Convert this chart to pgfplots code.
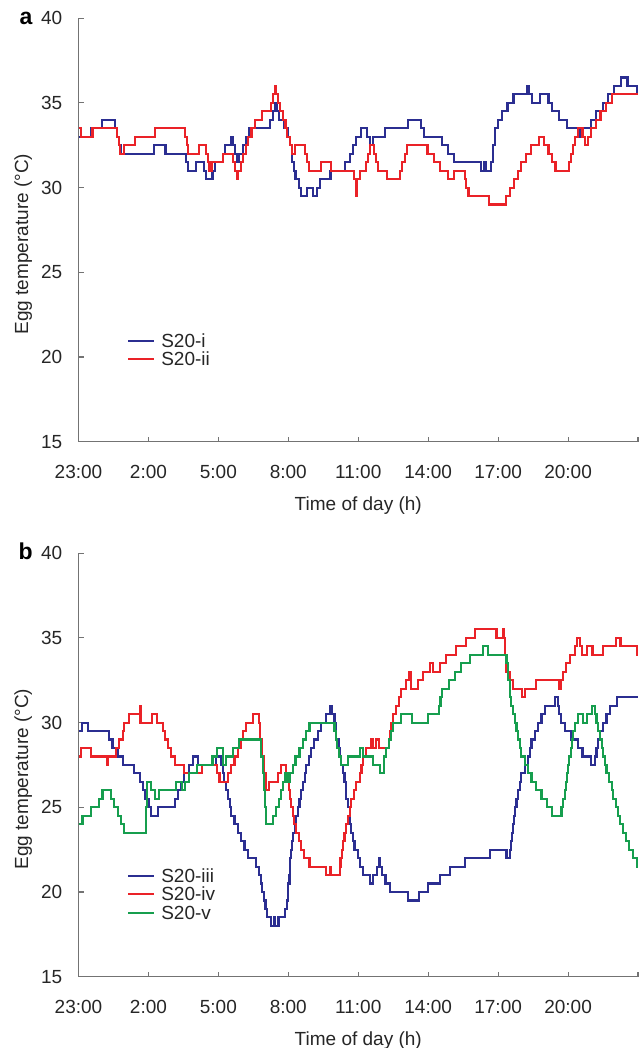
\documentclass[border=0pt]{standalone}
\usepackage{fontspec}
\setmainfont{Liberation Sans}
\usepackage{pgfplots}
\pgfplotsset{compat=1.18}

\definecolor{sblue}{RGB}{43,46,145}
\definecolor{sred}{RGB}{234,34,40}
\definecolor{sgreen}{RGB}{22,158,78}
\definecolor{axgray}{RGB}{115,115,115}
\newcommand\chartfont{\fontsize{19bp}{22bp}\selectfont}

\pgfplotsset{
  eggaxis/.style={
    scale only axis, width=559.5bp, height=423.5bp,
    xmin=0, xmax=24, ymin=15, ymax=40,
    axis lines=left, axis line style={-, draw=axgray, line width=1.1bp},
    xtick={0,3,...,24},
    xticklabels={23:00,2:00,5:00,8:00,11:00,14:00,17:00,20:00,{}},
    ytick={15,20,...,40},
    tick align=inside, major tick length=5bp,
    tick style={draw=axgray, line width=1.1bp},
    /pgf/number format/assume math mode=true,
    tick label style={font=\chartfont, text=black!85},
    yticklabel style={anchor=east, inner sep=0pt, xshift=-16bp},
    xticklabel style={anchor=north, inner sep=0pt, yshift=-23.3bp},
    xlabel={Time of day (h)},
    ylabel={Egg temperature (°C)},
    xlabel style={at={(axis description cs:0.5,0)}, anchor=north,
      inner sep=0pt, yshift=-55bp, font=\chartfont, text=black!85},
    ylabel style={at={(axis description cs:-0.0987,0.4665)}, anchor=center,
      inner sep=0pt, font=\chartfont, text=black!85},
    legend style={at={(axis description cs:0.0867,0.255)}, anchor=north west,
      draw=none, fill=none, font=\chartfont, inner sep=0pt,
      row sep=5bp, column sep=6bp,
      nodes={inner sep=0pt, text height=13.5bp, text depth=0pt, text=black!85}},
    legend cell align=left,
    legend image code/.code={\draw[#1, line width=2.1bp] (0bp,0bp) -- (26bp,0bp);},
    every axis plot/.append style={const plot, no marks, line width=2.1bp},
  }
}

\begin{document}
\begin{tikzpicture}
\path[use as bounding box] (0,0) rectangle (643bp,1048bp);

% panel a
\begin{axis}[eggaxis, at={(78.5bp,606.3bp)}, anchor=south west]
\addplot[sblue] coordinates {
(0,33.0) (0.53,33.5) (1.00,34.0) (1.58,33.5) (1.67,33.0) (1.74,32.5) (1.83,32.0)
(3.23,32.5) (3.73,32.0) (4.60,31.5) (4.69,31.0) (5.04,31.5) (5.40,31.0) (5.48,30.5)
(5.75,31.0) (5.87,31.5) (6.19,32.0) (6.27,32.5) (6.54,33.0) (6.63,32.5) (6.71,32.0)
(6.80,31.5) (6.89,32.0) (7.07,32.5) (7.19,33.0) (7.33,33.5) (8.21,34.0) (8.35,34.5)
(8.44,35.0) (8.52,34.5) (8.61,34.0) (8.82,33.5) (9.00,33.0) (9.09,32.5) (9.17,31.5)
(9.23,31.0) (9.31,30.5) (9.44,30.0) (9.53,29.5) (9.79,30.0) (10.05,29.5) (10.23,30.0)
(10.37,30.5) (10.81,31.0) (11.42,31.5) (11.63,32.0) (11.76,32.5) (11.90,33.0)
(12.13,33.5) (12.39,33.0) (12.51,32.5) (12.65,33.0) (13.13,33.5) (14.13,34.0)
(14.71,33.5) (14.83,33.0) (15.59,32.5) (15.85,32.0) (16.12,31.5) (17.26,31.0)
(17.40,31.5) (17.47,31.0) (17.70,31.5) (17.79,32.5) (17.87,33.5) (18.00,34.0)
(18.17,34.5) (18.40,35.0) (18.66,35.5) (19.23,36.0) (19.31,35.5) (19.46,35.0)
(19.81,35.5) (20.16,35.0) (20.33,34.5) (20.63,34.0) (20.95,33.5) (21.51,33.0)
(21.65,33.5) (22.00,34.0) (22.18,34.5) (22.50,35.0) (22.71,35.5) (22.97,36.0)
(23.27,36.5) (23.55,36.0) (23.94,35.5) (24,35.5)};
\addlegendentry{S20-i}
\addplot[sred] coordinates {
(0,33.5) (0.09,33.0) (0.60,33.5) (1.65,33.0) (1.74,32.5) (1.79,32.0) (1.97,32.5)
(2.41,33.0) (3.29,33.5) (4.57,33.0) (4.64,32.5) (4.71,32.0) (5.18,32.5) (5.48,32.0)
(5.57,31.5) (5.62,31.0) (5.71,31.5) (6.19,32.0) (6.63,31.5) (6.71,31.0) (6.78,30.5)
(6.85,31.0) (6.98,31.5) (7.07,32.0) (7.19,32.5) (7.28,33.0) (7.42,33.5) (7.59,34.0)
(7.89,34.5) (8.26,35.0) (8.35,35.5) (8.42,36.0) (8.47,35.5) (8.54,35.0) (8.65,34.5)
(8.79,34.0) (8.88,33.5) (8.96,33.0) (9.09,32.5) (9.17,32.0) (9.30,32.5) (9.70,32.0)
(9.79,31.5) (9.88,31.0) (10.40,31.5) (10.84,31.0) (11.81,30.5) (11.90,29.5)
(11.95,30.5) (12.09,31.0) (12.34,31.5) (12.43,32.0) (12.51,32.5) (12.69,32.0)
(12.78,31.5) (12.86,31.0) (13.22,30.5) (13.78,31.0) (13.88,31.5) (14.01,32.0)
(14.09,32.5) (14.97,32.0) (15.24,31.5) (15.50,31.0) (15.85,30.5) (16.12,31.0)
(16.56,30.5) (16.64,30.0) (16.73,29.5) (17.61,29.0) (18.35,29.5) (18.52,30.0)
(18.70,30.5) (18.84,31.0) (18.98,31.5) (19.19,32.0) (19.40,32.5) (19.75,33.0)
(19.98,32.5) (20.16,32.0) (20.33,31.5) (20.46,31.0) (21.04,31.5) (21.13,32.0)
(21.21,32.5) (21.30,33.0) (21.44,33.5) (21.62,33.0) (21.74,32.5) (21.86,33.0)
(22.00,33.5) (22.18,34.0) (22.39,34.5) (22.62,35.0) (22.88,35.5) (24,35.5)};
\addlegendentry{S20-ii}
\end{axis}

% panel b
\begin{axis}[eggaxis, at={(78.5bp,71.3bp)}, anchor=south west]
\addplot[sblue] coordinates {
(0.00,29.5) (0.14,30.0) (0.39,29.5) (1.29,29.0) (1.46,28.5) (1.68,28.0) (1.89,27.5)
(2.39,27.0) (2.64,26.5) (2.75,26.0) (2.87,25.5) (3.01,25.0) (3.11,24.5) (3.40,25.0)
(4.15,25.5) (4.25,26.0) (4.40,26.5) (4.54,27.0) (4.73,27.5) (4.93,28.0) (5.11,27.5)
(5.90,28.0) (6.10,27.5) (6.18,27.0) (6.26,26.5) (6.33,26.0) (6.40,25.5) (6.48,25.0)
(6.55,24.5) (6.69,24.0) (6.83,23.5) (6.97,23.0) (7.12,22.5) (7.26,22.0) (7.62,21.5)
(7.76,21.0) (7.82,20.5) (7.88,20.0) (7.95,19.5) (8.02,19.0) (8.10,18.5) (8.25,18.0)
(8.38,18.5) (8.43,18.0) (8.58,18.5) (8.85,19.0) (8.95,19.5) (9.00,20.5) (9.05,21.0)
(9.08,22.0) (9.12,22.5) (9.17,23.0) (9.22,23.5) (9.27,24.0) (9.31,24.5) (9.40,25.0)
(9.48,25.5) (9.55,26.0) (9.62,26.5) (9.70,27.0) (9.77,27.5) (9.90,28.0) (9.98,28.5)
(10.12,29.0) (10.27,29.5) (10.41,30.0) (10.63,30.5) (10.80,31.0) (10.88,30.5)
(10.98,30.0) (11.05,29.0) (11.17,28.5) (11.22,28.0) (11.27,27.5) (11.34,27.0)
(11.41,26.5) (11.48,25.5) (11.56,25.0) (11.63,24.0) (11.70,23.5) (11.77,23.0)
(11.84,22.5) (11.99,22.0) (12.06,21.5) (12.20,21.0) (12.50,20.5) (12.62,21.0)
(12.80,21.5) (12.88,22.0) (12.95,21.5) (13.02,21.0) (13.17,20.5) (13.38,20.0)
(14.13,19.5) (14.61,20.0) (14.99,20.5) (15.49,21.0) (15.93,21.5) (16.57,22.0)
(17.64,22.5) (18.36,22.0) (18.50,22.5) (18.57,23.0) (18.60,23.5) (18.64,24.0)
(18.68,24.5) (18.72,25.0) (18.79,25.5) (18.86,26.0) (18.93,26.5) (19.00,27.0)
(19.14,27.5) (19.29,28.0) (19.36,28.5) (19.43,29.0) (19.57,29.5) (19.72,30.0)
(19.86,30.5) (20.00,31.0) (20.43,31.5) (20.55,31.0) (20.62,30.5) (20.71,30.0)
(20.85,29.5) (21.11,29.0) (21.44,28.5) (21.62,28.0) (22.00,27.5) (22.15,28.0)
(22.22,28.5) (22.30,29.0) (22.37,29.5) (22.51,30.0) (22.65,30.5) (22.79,31.0)
(23.08,31.5) (24,31.5)};
\addlegendentry{S20-iii}
\addplot[sred] coordinates {
(0,28.0) (0.10,28.5) (0.53,28.0) (1.22,27.5) (1.28,28.0) (1.60,28.5) (1.75,29.0)
(1.89,29.5) (1.96,30.0) (2.18,30.5) (2.62,31.0) (2.66,30.0) (3.15,30.5) (3.35,30.0)
(3.61,29.5) (3.72,29.0) (3.83,28.5) (3.97,28.0) (4.15,27.5) (4.54,27.0) (5.30,27.5)
(5.95,27.0) (6.05,26.5) (6.40,27.0) (6.55,27.5) (6.69,28.0) (6.83,28.5) (6.97,29.0)
(7.07,29.5) (7.19,30.0) (7.48,30.5) (7.73,30.0) (7.80,29.0) (7.88,28.0) (7.95,27.0)
(8.05,26.0) (8.19,26.5) (8.55,27.0) (8.69,27.5) (8.91,27.0) (8.98,26.5) (9.02,26.0)
(9.08,25.5) (9.12,25.0) (9.19,24.5) (9.26,24.0) (9.34,23.5) (9.45,23.0) (9.55,22.5)
(9.69,22.0) (9.91,21.5) (10.63,21.0) (10.77,21.5) (10.85,21.0) (11.20,21.5)
(11.24,22.0) (11.30,22.5) (11.34,23.0) (11.41,23.5) (11.49,24.0) (11.56,24.5)
(11.63,25.0) (11.70,25.5) (11.80,26.0) (11.91,26.5) (12.06,27.0) (12.14,27.5)
(12.20,28.0) (12.34,28.5) (12.56,29.0) (12.62,28.5) (12.78,29.0) (12.88,28.5)
(13.32,29.0) (13.38,29.5) (13.42,30.0) (13.49,30.5) (13.63,31.0) (13.75,31.5)
(13.85,32.0) (14.06,32.5) (14.20,33.0) (14.26,32.0) (14.56,32.5) (14.78,33.0)
(15.06,33.5) (15.20,33.0) (15.49,33.5) (15.78,34.0) (16.21,34.5) (16.64,35.0)
(17.00,35.5) (17.93,35.0) (18.19,35.5) (18.24,35.0) (18.29,34.0) (18.36,33.0)
(18.50,32.5) (18.62,32.0) (19.04,31.5) (19.14,32.0) (19.62,32.5) (20.62,32.0)
(20.69,32.5) (20.79,33.0) (20.93,33.5) (21.08,34.0) (21.29,34.5) (21.39,35.0)
(21.51,34.5) (21.58,34.0) (21.82,34.5) (22.05,34.0) (22.51,34.5) (23.05,35.0)
(23.25,34.5) (23.94,34.0) (24,34.0)};
\addlegendentry{S20-iv}
\addplot[sgreen] coordinates {
(0,24.0) (0.17,24.5) (0.53,25.0) (0.89,25.5) (1.03,26.0) (1.39,25.5) (1.53,25.0)
(1.68,24.5) (1.82,24.0) (1.96,23.5) (2.89,25.0) (2.95,26.5) (3.10,26.0) (3.30,25.5)
(3.45,26.0) (4.20,26.5) (4.45,26.0) (4.55,26.5) (4.75,27.0) (5.10,27.5) (5.75,28.0)
(5.95,28.5) (6.19,27.5) (6.33,28.0) (6.62,28.5) (6.87,29.0) (7.83,28.0) (7.91,27.0)
(7.96,26.0) (8.01,25.0) (8.05,24.0) (8.34,24.5) (8.48,25.0) (8.59,25.5) (8.69,26.0)
(8.79,26.5) (8.85,27.0) (8.95,26.5) (9.05,27.0) (9.19,27.5) (9.31,28.0) (9.48,28.5)
(9.62,29.0) (9.74,29.5) (9.91,30.0) (10.98,29.5) (11.03,29.0) (11.08,28.5)
(11.17,28.0) (11.27,27.5) (11.56,28.0) (12.09,28.5) (12.20,28.0) (12.63,27.5)
(12.92,27.0) (13.09,28.0) (13.20,28.5) (13.32,29.0) (13.42,29.5) (13.49,30.0)
(13.85,30.5) (14.32,30.0) (14.99,30.5) (15.46,31.0) (15.53,31.5) (15.61,32.0)
(15.89,32.5) (16.14,33.0) (16.42,33.5) (16.78,34.0) (17.36,34.5) (17.57,34.0)
(18.36,33.5) (18.43,32.5) (18.50,31.5) (18.57,31.0) (18.64,30.5) (18.72,30.0)
(18.79,29.5) (18.86,29.0) (18.93,28.5) (19.00,28.0) (19.14,27.5) (19.29,27.0)
(19.43,26.5) (19.64,26.0) (19.86,25.5) (20.08,25.0) (20.30,24.5) (20.72,25.0)
(20.79,25.5) (20.86,26.0) (20.91,26.5) (20.95,27.0) (21.01,27.5) (21.05,28.0)
(21.11,28.5) (21.15,29.0) (21.22,29.5) (21.29,30.0) (21.44,30.5) (21.65,30.0)
(21.82,30.5) (22.02,31.0) (22.14,30.5) (22.22,30.0) (22.30,29.5) (22.37,29.0)
(22.44,28.5) (22.51,28.0) (22.58,27.5) (22.65,27.0) (22.75,26.5) (22.87,26.0)
(22.94,25.5) (23.05,25.0) (23.15,24.5) (23.23,24.0) (23.34,23.5) (23.48,23.0)
(23.63,22.5) (23.80,22.0) (23.94,21.5) (24,21.5)};
\addlegendentry{S20-v}
\end{axis}

\node[anchor=base west, font=\fontsize{23bp}{26bp}\selectfont\bfseries] at (16bp,1023bp) {a};
\node[anchor=base west, font=\fontsize{23bp}{26bp}\selectfont\bfseries] at (15bp,488bp) {b};
\end{tikzpicture}
\end{document}
